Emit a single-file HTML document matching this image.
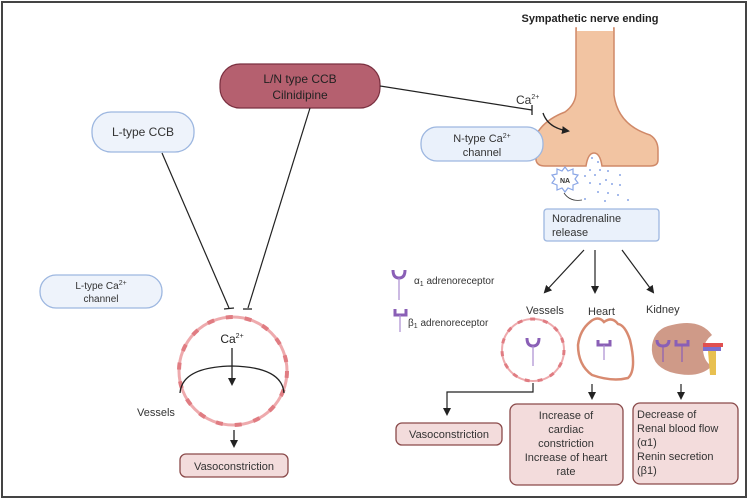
<!DOCTYPE html>
<html><head><meta charset="utf-8"><style>
body{margin:0;background:#fff}
svg{display:block;font-family:"Liberation Sans",sans-serif}
</style></head><body>
<svg width="749" height="501" viewBox="0 0 749 501" xmlns="http://www.w3.org/2000/svg">
<defs>
<marker id="ah" markerWidth="8" markerHeight="8" refX="6" refY="4" orient="auto" markerUnits="userSpaceOnUse"><path d="M0,0 L8,4 L0,8 Z" fill="#222"/></marker>
</defs>
<rect x="2" y="2" width="744" height="495" fill="#fff" stroke="#444" stroke-width="2"/>

<text x="590" y="22" font-size="11" font-weight="bold" text-anchor="middle" fill="#222">Sympathetic nerve ending</text>
<path d="M576,28 L614,28 L614,95 Q618,125 650,135 Q658,140 658,150 L658,160 Q658,166 650,166 L602,166 Q600,153 594,153 Q588,153 586,166 L545,166 Q537,166 536,160 L536,135 Q544,120 565,112 Q576,104 576,92 Z" fill="#f2c4a2" stroke="#d08968" stroke-width="1.5"/>
<rect x="577" y="25" width="36" height="6" fill="#fff"/>
<text x="516" y="104" font-size="12" fill="#333">Ca<tspan font-size="7" dy="-5">2+</tspan></text>
<path d="M543,113 Q548,128 568,131" fill="none" stroke="#222" stroke-width="1.3" marker-end="url(#ah)"/>
<rect x="421" y="127" width="122" height="34" rx="16" fill="#eaf1fb" stroke="#9db7e0" stroke-width="1.3"/>
<text x="482" y="142" font-size="11" text-anchor="middle" fill="#333">N-type Ca<tspan font-size="7" dy="-4">2+</tspan></text>
<text x="482" y="156" font-size="11" text-anchor="middle" fill="#333">channel</text>
<polygon points="565,167 568,171 573,169 573,174 578,175 575,179 578,183 573,185 573,190 568,188 565,192 562,188 557,190 557,185 552,183 555,179 552,175 557,174 557,169 562,171" fill="#fff" stroke="#8aa6e6" stroke-width="1.2"/>
<text x="565" y="183" font-size="7" font-weight="bold" text-anchor="middle" fill="#333">NA</text>
<path d="M564,193 Q570,202 582,200" fill="none" stroke="#333" stroke-width="0.8"/>
<g fill="#8aa6e6">
<circle cx="592" cy="158" r="1"/><circle cx="598" cy="162" r="1"/><circle cx="590" cy="170" r="1"/><circle cx="600" cy="170" r="1"/><circle cx="608" cy="171" r="1"/><circle cx="585" cy="176" r="1"/><circle cx="595" cy="175" r="1"/><circle cx="606" cy="180" r="1"/><circle cx="620" cy="175" r="1"/><circle cx="590" cy="183" r="1"/><circle cx="600" cy="184" r="1"/><circle cx="612" cy="184" r="1"/><circle cx="620" cy="185" r="1"/><circle cx="598" cy="192" r="1"/><circle cx="608" cy="193" r="1"/><circle cx="618" cy="195" r="1"/><circle cx="585" cy="199" r="1"/><circle cx="605" cy="201" r="1"/><circle cx="628" cy="200" r="1"/>
</g>
<rect x="544" y="209" width="115" height="32" rx="3" fill="#eaf1fb" stroke="#9db7e0" stroke-width="1.3"/>
<text x="552" y="222" font-size="11" fill="#333">Noradrenaline</text>
<text x="552" y="236" font-size="11" fill="#333">release</text>

<line x1="584" y1="250" x2="545" y2="292" stroke="#222" stroke-width="1.2" marker-end="url(#ah)"/>
<line x1="595" y1="250" x2="595" y2="292" stroke="#222" stroke-width="1.2" marker-end="url(#ah)"/>
<line x1="622" y1="250" x2="653" y2="292" stroke="#222" stroke-width="1.2" marker-end="url(#ah)"/>

<path d="M393,270 Q393,278 399,278 Q405,278 405,270" fill="none" stroke="#8a5fb6" stroke-width="3"/>
<line x1="399" y1="278" x2="399" y2="300" stroke="#a98bd0" stroke-width="1.2"/>
<text x="414" y="284" font-size="10" fill="#333">α<tspan font-size="7" dy="2">1</tspan><tspan dy="-2"> adrenoreceptor</tspan></text>
<path d="M395,309 L395,315 L406,315 L406,309" fill="none" stroke="#8a5fb6" stroke-width="3"/>
<line x1="400" y1="315" x2="400" y2="332" stroke="#a98bd0" stroke-width="1.2"/>
<text x="408" y="326" font-size="10" fill="#333">β<tspan font-size="7" dy="2">1</tspan><tspan dy="-2"> adrenoreceptor</tspan></text>

<text x="526" y="314" font-size="11" fill="#333">Vessels</text>
<text x="588" y="315" font-size="11" fill="#333">Heart</text>
<text x="646" y="313" font-size="11" fill="#333">Kidney</text>

<circle cx="533" cy="350" r="31" fill="#fff" stroke="#eeaaad" stroke-width="2"/>
<circle cx="533" cy="350" r="31" fill="none" stroke="#e07c82" stroke-width="3" stroke-dasharray="5 8"/>
<path d="M527,338 Q527,346 533,346 Q539,346 539,338" fill="none" stroke="#8a5fb6" stroke-width="3"/>
<line x1="533" y1="346" x2="533" y2="366" stroke="#a98bd0" stroke-width="1.2"/>
<path d="M590,322 Q598,315 604,322 Q612,316 618,324 Q625,325 630,340 Q637,370 628,378 Q612,382 592,375 Q578,365 578,345 Q580,330 590,322 Z" fill="#fff" stroke="#d88a70" stroke-width="2.5"/>
<path d="M598,340 L598,345 L610,345 L610,340" fill="none" stroke="#8a5fb6" stroke-width="3"/>
<line x1="604" y1="345" x2="604" y2="360" stroke="#a98bd0" stroke-width="1.2"/>
<path d="M672,325 Q700,318 712,335 Q705,340 703,350 Q704,362 712,366 Q698,380 670,372 Q650,365 652,345 Q655,328 672,325 Z" fill="#cf9a88"/>
<rect x="703" y="343" width="20" height="4" fill="#e05050"/>
<rect x="703" y="347" width="18" height="4" fill="#7a6fd0"/>
<path d="M708,351 L716,351 L716,375 L710,375 Z" fill="#e8c050"/>
<path d="M657,340 Q657,346 663,346 Q669,346 669,340" fill="none" stroke="#8a5fb6" stroke-width="3"/>
<line x1="663" y1="346" x2="663" y2="362" stroke="#8a5fb6" stroke-width="1.2"/>
<path d="M676,340 L676,345 L688,345 L688,340" fill="none" stroke="#8a5fb6" stroke-width="3"/>
<line x1="682" y1="345" x2="682" y2="362" stroke="#8a5fb6" stroke-width="1.2"/>

<path d="M533,383 L533,392 L447,392 L447,414" fill="none" stroke="#222" stroke-width="1.2" marker-end="url(#ah)"/>
<line x1="592" y1="384" x2="592" y2="398" stroke="#222" stroke-width="1.2" marker-end="url(#ah)"/>
<line x1="681" y1="384" x2="681" y2="398" stroke="#222" stroke-width="1.2" marker-end="url(#ah)"/>

<rect x="396" y="423" width="106" height="22" rx="6" fill="#f3dcdc" stroke="#8a4a4a" stroke-width="1.3"/>
<text x="449" y="438" font-size="11" text-anchor="middle" fill="#333">Vasoconstriction</text>
<rect x="510" y="404" width="113" height="81" rx="7" fill="#f3dcdc" stroke="#8a4a4a" stroke-width="1.3"/>
<g font-size="11" text-anchor="middle" fill="#333">
<text x="566" y="419">Increase of</text><text x="566" y="433">cardiac</text><text x="566" y="447">constriction</text><text x="566" y="461">Increase of heart</text><text x="566" y="475">rate</text>
</g>
<rect x="633" y="403" width="105" height="81" rx="7" fill="#f3dcdc" stroke="#8a4a4a" stroke-width="1.3"/>
<g font-size="11" fill="#333">
<text x="637" y="418">Decrease of</text><text x="637" y="432">Renal blood flow</text><text x="637" y="446">(α1)</text><text x="637" y="460">Renin secretion</text><text x="637" y="474">(β1)</text>
</g>

<rect x="220" y="64" width="160" height="44" rx="20" fill="#b5606f" stroke="#7a3040" stroke-width="1.2"/>
<text x="300" y="83" font-size="12" text-anchor="middle" fill="#222">L/N type CCB</text>
<text x="300" y="99" font-size="12" text-anchor="middle" fill="#222">Cilnidipine</text>
<rect x="92" y="112" width="102" height="40" rx="19" fill="#eef3fb" stroke="#9db7e0" stroke-width="1.3"/>
<text x="143" y="136" font-size="12" text-anchor="middle" fill="#333">L-type CCB</text>
<rect x="40" y="275" width="122" height="33" rx="16" fill="#eef3fb" stroke="#9db7e0" stroke-width="1.3"/>
<text x="101" y="289" font-size="10" text-anchor="middle" fill="#333">L-type Ca<tspan font-size="7" dy="-4">2+</tspan></text>
<text x="101" y="302" font-size="10" text-anchor="middle" fill="#333">channel</text>

<line x1="380" y1="86" x2="532" y2="110" stroke="#222" stroke-width="1.2"/>
<line x1="532" y1="105" x2="532" y2="115" stroke="#222" stroke-width="1.3"/>
<line x1="162" y1="153" x2="229" y2="308" stroke="#222" stroke-width="1.2"/>
<line x1="224" y1="309" x2="234" y2="308" stroke="#222" stroke-width="1.3"/>
<line x1="310" y1="108" x2="248" y2="308" stroke="#222" stroke-width="1.2"/>
<line x1="243" y1="309" x2="252" y2="309" stroke="#222" stroke-width="1.3"/>

<circle cx="233" cy="371" r="54" fill="#fff" stroke="#eeaaad" stroke-width="3"/>
<circle cx="233" cy="371" r="54" fill="none" stroke="#e07c82" stroke-width="4" stroke-dasharray="7 12"/>
<path d="M180,393 Q182,367 232,366 Q282,367 284,393" fill="none" stroke="#222" stroke-width="1.3"/>
<text x="232" y="343" font-size="12" text-anchor="middle" fill="#222">Ca<tspan font-size="7" dy="-5">2+</tspan></text>
<line x1="232" y1="348" x2="232" y2="384" stroke="#222" stroke-width="1.3" marker-end="url(#ah)"/>
<text x="137" y="416" font-size="11" fill="#333">Vessels</text>
<line x1="234" y1="430" x2="234" y2="446" stroke="#222" stroke-width="1.3" marker-end="url(#ah)"/>
<rect x="180" y="454" width="108" height="23" rx="6" fill="#f3dcdc" stroke="#8a4a4a" stroke-width="1.3"/>
<text x="234" y="470" font-size="11" text-anchor="middle" fill="#333">Vasoconstriction</text>
</svg>
</body></html>
